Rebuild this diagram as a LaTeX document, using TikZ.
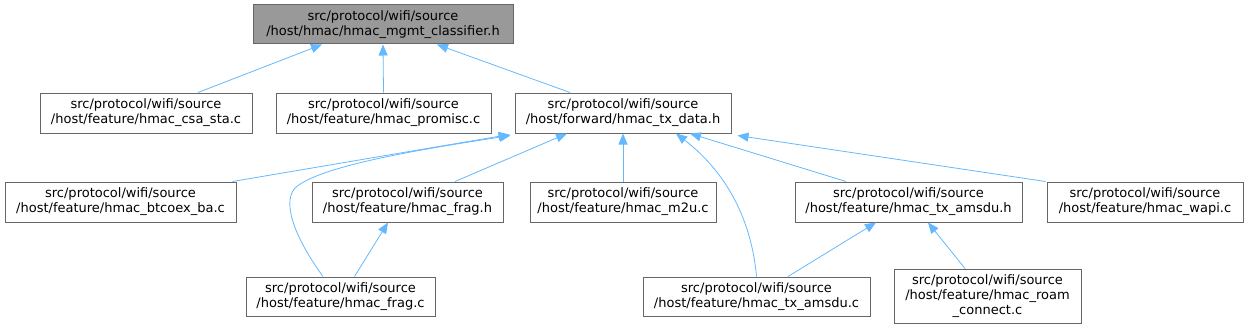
\documentclass[tikz,border=0pt]{standalone}
\usepackage{fontspec}
\setmainfont{DejaVu Sans}
\usepackage{xcolor}
\usepackage{tikz}
\usetikzlibrary{arrows.meta, positioning}
\definecolor{edgeblue}{HTML}{63B8FF}
\definecolor{boxgray}{HTML}{666666}
\definecolor{rootgray}{HTML}{999999}
\tikzstyle{arrow} = [draw=edgeblue, line width=0.8pt, -{Triangle[length=11pt,width=9pt]}]
\tikzstyle{file}  = [rectangle, draw=boxgray, line width=1pt, fill=white, inner sep=0pt, minimum height=40pt,
                     font=\fontsize{13}{15}\selectfont]
\tikzset{every node/.style={align=center}}

\begin{document}
\begin{tikzpicture}[x=1pt, y=1pt]
    \useasboundingbox (0,0) rectangle (1247,-329);
    % top header
    \node (root)   at (383,-24.5)  [file, fill=rootgray, minimum width=260pt, minimum height=39pt] {src/protocol/wifi/source\\/host/hmac/hmac\_mgmt\_classifier.h};
    % second row
    \node (csasta)  at (146,-113)   [file, minimum width=212pt] {src/protocol/wifi/source\\/host/feature/hmac\_csa\_sta.c};
    \node (promisc) at (383.5,-113) [file, minimum width=215pt] {src/protocol/wifi/source\\/host/feature/hmac\_promisc.c};
    \node (txdata)  at (623,-113)   [file, minimum width=216pt] {src/protocol/wifi/source\\/host/forward/hmac\_tx\_data.h};
    % third row
    \node (btcoex)  at (120.5,-202) [file, minimum width=231pt] {src/protocol/wifi/source\\/host/feature/hmac\_btcoex\_ba.c};
    \node (fragh)   at (407.5,-202) [file, minimum width=191pt] {src/protocol/wifi/source\\/host/feature/hmac\_frag.h};
    \node (mtwou)   at (623,-202)   [file, minimum width=186pt] {src/protocol/wifi/source\\/host/feature/hmac\_m2u.c};
    \node (amsduh)  at (908.5,-202) [file, minimum width=227pt] {src/protocol/wifi/source\\/host/feature/hmac\_tx\_amsdu.h};
    \node (wapi)    at (1145,-202)  [file, minimum width=196pt] {src/protocol/wifi/source\\/host/feature/hmac\_wapi.c};
    % bottom row
    \node (fragc)   at (340.5,-296.5) [file, minimum width=189pt, minimum height=39pt] {src/protocol/wifi/source\\/host/feature/hmac\_frag.c};
    \node (amsduc)  at (756.5,-296.5) [file, minimum width=227pt, minimum height=39pt] {src/protocol/wifi/source\\/host/feature/hmac\_tx\_amsdu.c};
    \node (roam)    at (987.5,-296)   [file, minimum width=187pt, minimum height=54pt] {src/protocol/wifi/source\\/host/feature/hmac\_roam\\\_connect.c};

    \draw [arrow] ([xshift=52pt]csasta.north)  -- ([xshift=-61pt]root.south);
    \draw [arrow] (promisc.north)              -- (root.south);
    \draw [arrow] ([xshift=-53pt]txdata.north) -- ([xshift=54pt]root.south);

    \draw [arrow] ([xshift=112pt]btcoex.north) -- ([xshift=-5pt,yshift=-1pt]txdata.south west);
    \draw [arrow] ([xshift=-17.5pt]fragc.north) .. controls (300,-245) and (280,-205) .. (295,-188)
                  .. controls (320,-165) and (430,-148) .. ([xshift=-4pt,yshift=-2pt]txdata.south west);
    \draw [arrow] ([xshift=47.5pt]fragh.north) -- ([xshift=-56pt]txdata.south);
    \draw [arrow] (mtwou.north)                -- (txdata.south);
    \draw [arrow] (amsduc.north) .. controls (752,-225) and (730,-175) .. ([xshift=53pt]txdata.south);
    \draw [arrow] ([xshift=-62.5pt]amsduh.north) -- ([xshift=67pt]txdata.south);
    \draw [arrow] ([xshift=-1pt]wapi.north west) -- ([xshift=6pt,yshift=-2pt]txdata.south east);

    \draw [arrow] ([xshift=14pt]fragc.north)    -- ([xshift=-19.5pt]fragh.south);
    \draw [arrow] ([xshift=31.5pt]amsduc.north) -- ([xshift=-32.5pt]amsduh.south);
    \draw [arrow] ([xshift=-22.5pt]roam.north)  -- ([xshift=19.5pt]amsduh.south);
\end{tikzpicture}
\end{document}
